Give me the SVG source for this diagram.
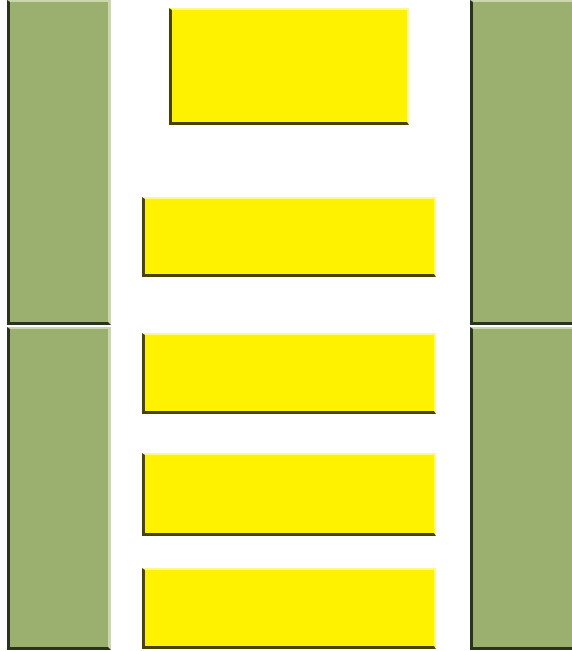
<svg xmlns="http://www.w3.org/2000/svg" width="572" height="651" viewBox="0 0 572 651">
<style>
.gf{fill:#9BAF6E}
.gd{fill:#2A3320}
.gl{fill:#CBD6AE}
.yf{fill:#FFF200}
.yd{fill:#4A4300}
.yl{fill:#FFF98A}
</style>
<rect width="572" height="651" fill="#FFFFFF"/>
<g id="green-left-top">
<rect class="gf" x="7" y="0" width="104" height="325"/>
<polygon class="gl" points="7,0 111,0 111,325 108,322 108,2 10,2"/>
<polygon class="gd" points="7,0 10,2 10,322 108,322 111,325 7,325"/>
</g>
<g id="green-left-bottom">
<rect class="gf" x="7" y="327" width="104" height="323"/>
<polygon class="gl" points="7,327 111,327 111,650 108,647 108,329 10,329"/>
<polygon class="gd" points="7,327 10,329 10,647 108,647 111,650 7,650"/>
</g>
<g id="green-right-top">
<rect class="gf" x="470" y="0" width="102" height="325"/>
<polygon class="gl" points="470,0 572,0 572,2 473,2"/>
<polygon class="gd" points="470,0 473,2 473,322 572,322 572,325 470,325"/>
</g>
<g id="green-right-bottom">
<rect class="gf" x="470" y="327" width="102" height="323"/>
<polygon class="gl" points="470,327 572,327 572,329 473,329"/>
<polygon class="gd" points="470,327 473,329 473,647 572,647 572,650 470,650"/>
</g>
<g id="yellow-1">
<rect class="yf" x="169" y="8" width="240" height="117"/>
<polygon class="yl" points="169,8 409,8 409,125 407,122 407,10 172,10"/>
<polygon class="yd" points="169,8 172,10 172,122 407,122 409,125 169,125"/>
</g>
<g id="yellow-2">
<rect class="yf" x="142" y="197" width="294" height="80"/>
<polygon class="yl" points="142,197 436,197 436,277 434,274 434,199 145,199"/>
<polygon class="yd" points="142,197 145,199 145,274 434,274 436,277 142,277"/>
</g>
<g id="yellow-3">
<rect class="yf" x="142" y="333" width="294" height="81"/>
<polygon class="yl" points="142,333 436,333 436,414 434,411 434,335 145,335"/>
<polygon class="yd" points="142,333 145,335 145,411 434,411 436,414 142,414"/>
</g>
<g id="yellow-4">
<rect class="yf" x="142" y="453" width="294" height="83"/>
<polygon class="yl" points="142,453 436,453 436,536 434,533 434,455 145,455"/>
<polygon class="yd" points="142,453 145,455 145,533 434,533 436,536 142,536"/>
</g>
<g id="yellow-5">
<rect class="yf" x="142" y="568" width="294" height="81"/>
<polygon class="yl" points="142,568 436,568 436,649 434,646 434,570 145,570"/>
<polygon class="yd" points="142,568 145,570 145,646 434,646 436,649 142,649"/>
</g>
<g id="connectors"/>
</svg>
